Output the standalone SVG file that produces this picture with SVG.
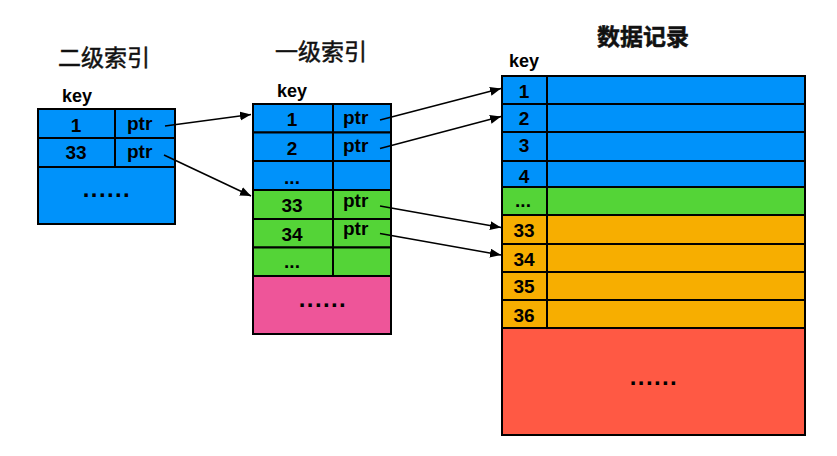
<svg xmlns="http://www.w3.org/2000/svg" width="837" height="456" viewBox="0 0 837 456">
<style>
.cell{stroke:#000;stroke-width:2}
.blue{fill:#0092FA}
.green{fill:#54D437}
.orange{fill:#F7AE00}
.pink{fill:#EE5599}
.red{fill:#FF5944}
.div{stroke:#000;stroke-width:2}
.t{font-family:"Liberation Sans",Arial,sans-serif;font-weight:bold;font-size:19px;fill:#000}
.k{font-size:18px}
.m{text-anchor:middle}
.dots{font-size:24px;letter-spacing:1.4px}
.title{font-family:"Noto Sans CJK SC",sans-serif;font-size:23px;fill:#111;stroke:#111;stroke-width:0.5}
.conn{stroke:#000;stroke-width:1.6;fill:none;marker-end:url(#arr)}
</style>
<defs>
<marker id="arr" markerUnits="userSpaceOnUse" markerWidth="12" markerHeight="10" refX="11" refY="4.5" orient="auto">
<path d="M0,0 L11,4.5 L0,9 z" fill="#000"/>
</marker>
</defs>
<rect width="837" height="456" fill="#fff"/>

<g id="title-secondary"><text class="title" x="58" y="66">二级索引</text></g>
<g id="title-primary"><text class="title" x="275" y="60">一级索引</text></g>
<g id="title-data"><text class="title" x="597" y="45" font-weight="bold" stroke-width="0.3">数据记录</text></g>

<g id="secondary-index">
<text class="t k" x="62" y="102">key</text>
<rect class="cell blue" x="38" y="109" width="137" height="29"/>
<rect class="cell blue" x="38" y="138" width="137" height="29"/>
<rect class="cell blue" x="38" y="167" width="137" height="57"/>
<line class="div" x1="115" y1="109" x2="115" y2="167"/>
<text class="t m" x="76" y="131.5">1</text>
<text class="t" x="127" y="130">ptr</text>
<text class="t m" x="76" y="158.5">33</text>
<text class="t" x="127" y="157.5">ptr</text>
<text class="t m dots" x="107" y="197">......</text>
</g>

<g id="primary-index">
<text class="t k" x="277" y="97">key</text>
<rect class="cell blue" x="253" y="104" width="138" height="28.5"/>
<rect class="cell blue" x="253" y="132.5" width="138" height="28.5"/>
<rect class="cell blue" x="253" y="161" width="138" height="29"/>
<rect class="cell green" x="253" y="190" width="138" height="29"/>
<rect class="cell green" x="253" y="219" width="138" height="28.5"/>
<rect class="cell green" x="253" y="247.5" width="138" height="28.5"/>
<rect class="cell pink" x="253" y="276" width="138" height="58"/>
<line class="div" x1="333" y1="104" x2="333" y2="276"/>
<text class="t m" x="292" y="126">1</text>
<text class="t" x="343" y="123.5">ptr</text>
<text class="t m" x="292" y="154.5">2</text>
<text class="t" x="343" y="152">ptr</text>
<text class="t m" x="292" y="184">...</text>
<text class="t m" x="292" y="211.5">33</text>
<text class="t" x="343" y="207">ptr</text>
<text class="t m" x="292" y="240.5">34</text>
<text class="t" x="343" y="234.5">ptr</text>
<text class="t m" x="292" y="268">...</text>
<text class="t m dots" x="323" y="307">......</text>
</g>

<g id="data-records">
<text class="t k" x="509" y="67">key</text>
<rect class="cell blue" x="502" y="76" width="303" height="28"/>
<rect class="cell blue" x="502" y="104" width="303" height="28"/>
<rect class="cell blue" x="502" y="132" width="303" height="29"/>
<rect class="cell blue" x="502" y="161" width="303" height="26"/>
<rect class="cell green" x="502" y="187" width="303" height="28"/>
<rect class="cell orange" x="502" y="215" width="303" height="29"/>
<rect class="cell orange" x="502" y="244" width="303" height="28"/>
<rect class="cell orange" x="502" y="272" width="303" height="28"/>
<rect class="cell orange" x="502" y="300" width="303" height="28"/>
<rect class="cell red" x="502" y="328" width="303" height="107"/>
<line class="div" x1="547" y1="76" x2="547" y2="328"/>
<text class="t m" x="524" y="98">1</text>
<text class="t m" x="524" y="124.5">2</text>
<text class="t m" x="524" y="152">3</text>
<text class="t m" x="524" y="183">4</text>
<text class="t m" x="523" y="207">...</text>
<text class="t m" x="524" y="237">33</text>
<text class="t m" x="524" y="266">34</text>
<text class="t m" x="524" y="293">35</text>
<text class="t m" x="524" y="322">36</text>
<text class="t m dots" x="654" y="385">......</text>
</g>

<g id="connectors">
<line class="conn" x1="165" y1="126" x2="251" y2="114.5"/>
<line class="conn" x1="164" y1="155" x2="251" y2="196"/>
<line class="conn" x1="380" y1="120" x2="501" y2="88.5"/>
<line class="conn" x1="380" y1="148.5" x2="501" y2="116.5"/>
<line class="conn" x1="380" y1="206" x2="501" y2="227.5"/>
<line class="conn" x1="380" y1="233.5" x2="501" y2="255"/>
</g>
</svg>
